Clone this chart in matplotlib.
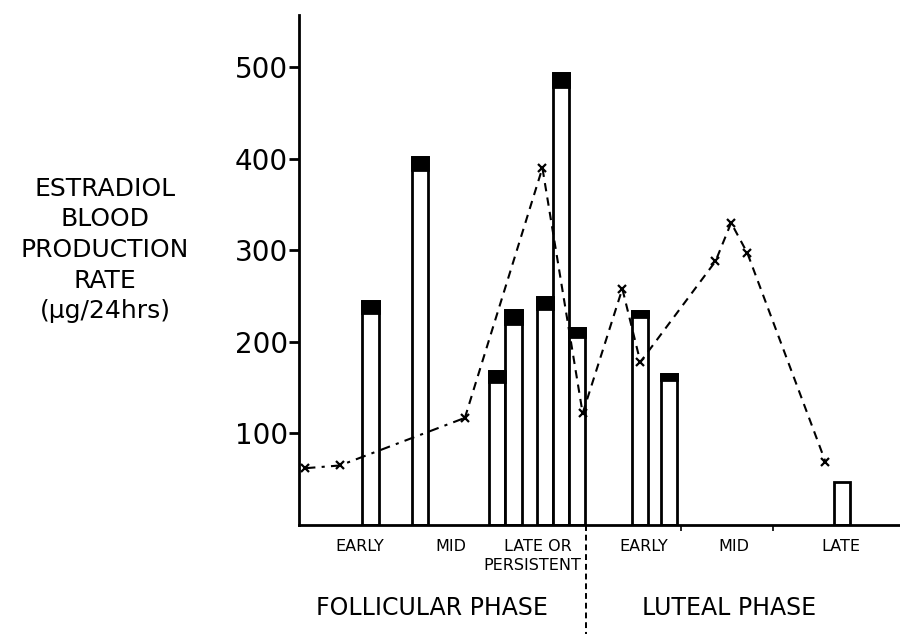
import matplotlib.pyplot as plt
import numpy as np

# bar positions (0-100 along the cycle axis), tops and dark cap depths (µg/24hrs)
bar_x = [11.9, 20.1, 33.0, 35.7, 40.9, 43.6, 46.3, 56.7, 61.6, 90.3]
bar_top = [245, 402, 168, 235, 249, 494, 215, 234, 165, 47]
bar_cap = [14, 14, 12, 16, 13, 16, 10, 7, 7, 0]

# dashed curve with x markers
line_x = [1.0, 6.8, 27.6, 40.5, 47.2, 53.8, 56.8, 69.3, 71.9, 74.6, 87.6]
line_y = [62, 65, 117, 390, 122, 258, 178, 288, 330, 297, 69]

yticks = [100, 200, 300, 400, 500]

sub_labels = ['EARLY', 'MID', 'LATE OR', 'PERSISTENT', 'EARLY', 'MID', 'LATE']
sub_x = [10.1, 25.2, 39.8, 38.8, 57.3, 72.4, 90.2]
sub_y = [-15, -15, -15, -36, -15, -15, -15]

fig = plt.figure(figsize=(9, 6.34), dpi=100)
ax = fig.add_axes([299/900, 109/634, 601/900, 510/634])
ax.set_xlim(0, 100)
ax.set_ylim(0, 557)

w = 2.7
ax.bar(bar_x, bar_top, width=w, color='white', edgecolor='black', linewidth=2, zorder=2)
for x, t, c in zip(bar_x, bar_top, bar_cap):
    if c > 0:
        ax.bar(x, c, bottom=t - c, width=w, color='black', edgecolor='black', linewidth=2, zorder=3)

ax.plot(line_x[:3], line_y[:3], color='black', lw=1.5, ls=(0, (5, 3, 1.5, 3)), zorder=4)
ax.plot(line_x[2:], line_y[2:], color='black', lw=1.5, ls=(0, (4, 3)), zorder=4)
ax.plot(line_x, line_y, ls='none', marker='x', ms=6, mew=1.6, color='black', zorder=5)

for s in ['top', 'right']:
    ax.spines[s].set_visible(False)
ax.spines['left'].set_linewidth(2)
ax.spines['bottom'].set_linewidth(2)

ax.set_yticks(yticks)
ax.set_yticklabels([str(v) for v in yticks], fontsize=20)
ax.tick_params(axis='y', length=7, width=2, pad=1)
ax.set_xticks([47.8, 63.5, 78.9])
ax.set_xticklabels([])
ax.tick_params(axis='x', length=4, width=1.2, direction='out')

# phase divider below the axis
ax.plot([47.8, 47.8], [0, -120], color='black', lw=1.4, ls=(0, (3, 2)), clip_on=False)

for lab, x, y in zip(sub_labels, sub_x, sub_y):
    ax.text(x, y, lab, ha='center', va='top', fontsize=11.5, clip_on=False)

fig.text(432/900, 1 - 608/634, 'FOLLICULAR PHASE', ha='center', va='center', fontsize=17)
fig.text(729/900, 1 - 608/634, 'LUTEAL PHASE', ha='center', va='center', fontsize=17)

fig.text(105/900, 1 - 250/634, 'ESTRADIOL\nBLOOD\nPRODUCTION\nRATE\n(µg/24hrs)',
         ha='center', va='center', fontsize=18, linespacing=1.35)

fig.savefig('out.png', dpi=100)
